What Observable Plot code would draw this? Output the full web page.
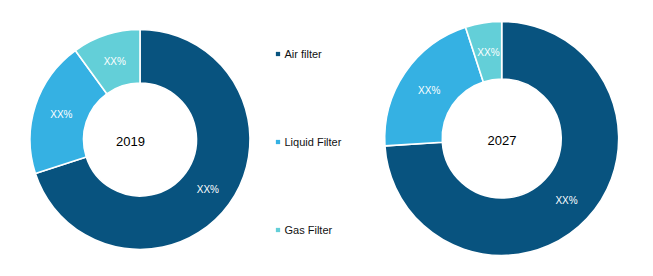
<!DOCTYPE html>
<html>
<head>
<meta charset="utf-8">
<script src="https://cdn.jsdelivr.net/npm/d3@7"></script>
<script src="https://cdn.jsdelivr.net/npm/@observablehq/plot@0.6"></script>
<style>
  html, body { margin: 0; padding: 0; background: #fff; }
  #chart svg { display: block; }
</style>
</head>
<body>
<div id="chart"></div>
<script>
// ---- data ----
const categories = ["Air filter", "Liquid Filter", "Gas Filter"];
const colors = ["#08537F", "#35B1E3", "#63CFD8"];
const years = ["2019", "2027"];
const share2019 = [70, 20, 10];
const share2027 = [74, 21, 5];
const sliceLabels = ["XX%", "XX%", "XX%"];

// ---- layout ----
const W = 653, H = 276;
const donuts = [
  {year: years[0], values: share2019, cx: 140, cy: 139.5, r0: 56.5, r1: 110, tx: 130},
  {year: years[1], values: share2027, cx: 501.7, cy: 138.5, r0: 59.5, r1: 117, tx: 501.5}
];

function donutMark(d) {
  return (index, scales) => {
    const pie = d3.pie().sort(null).value(v => v)(d.values);
    const arc = d3.arc().innerRadius(d.r0).outerRadius(d.r1);
    const g = d3.create("svg:g")
      .attr("transform", `translate(${scales.x(d.cx)},${scales.y(d.cy)})`);
    g.selectAll("path").data(pie).join("path")
      .attr("d", arc)
      .attr("fill", (p, i) => colors[i])
      .attr("stroke", "white")
      .attr("stroke-width", 1.6)
      .attr("stroke-linejoin", "round");
    return g.node();
  };
}

const labelRows = [];
for (const d of donuts) {
  const pie = d3.pie().sort(null).value(v => v)(d.values);
  const arc = d3.arc().innerRadius(d.r0).outerRadius(d.r1);
  pie.forEach((p, i) => {
    const c = arc.centroid(p);
    labelRows.push({x: d.cx + c[0], y: d.cy + c[1], text: sliceLabels[i]});
  });
}

const legendRows = categories.map((c, i) => ({name: c, color: colors[i], y: [53.5, 141.5, 229.5][i]}));

const plot = Plot.plot({
  width: W,
  height: H,
  margin: 0,
  x: {domain: [0, W], range: [0, W], axis: null},
  y: {domain: [0, H], range: [0, H], axis: null},
  style: {fontFamily: "'Liberation Sans', Arial, sans-serif", background: "white"},
  marks: [
    ...donuts.map(donutMark),
    Plot.text(labelRows, {x: "x", y: "y", text: "text", fill: "white", fontSize: 10, dy: 1}),
    Plot.text(donuts, {x: "tx", y: d => d.cy + 2, text: "year", fill: "black", fontSize: 13}),
    Plot.dot(legendRows, {x: 277.5, y: "y", symbol: "square", r: 2.4, fill: "color", stroke: null}),
    Plot.text(legendRows, {x: 284, y: "y", text: "name", textAnchor: "start", fill: "#111", fontSize: 11})
  ]
});
document.getElementById("chart").appendChild(plot);
</script>
</body>
</html>
